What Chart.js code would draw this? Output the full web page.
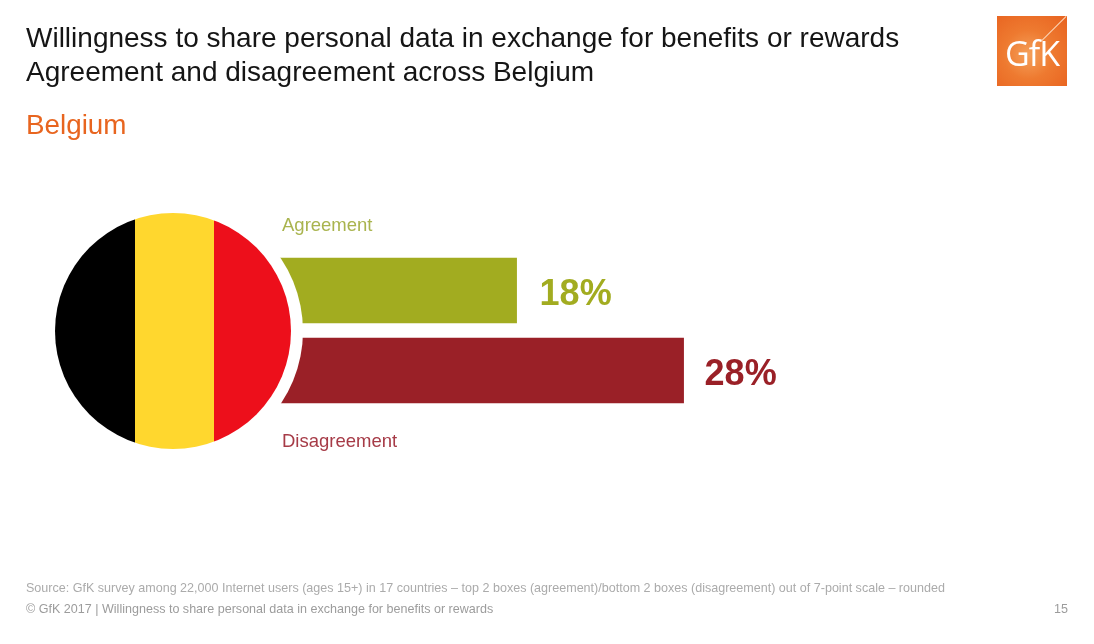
<!DOCTYPE html>
<html>
<head>
<meta charset="utf-8">
<title>Belgium</title>
<script src="https://cdn.jsdelivr.net/npm/chart.js@4"></script>
<style>
  html, body { margin: 0; padding: 0; background: #fff; }
  body { width: 1094px; height: 644px; position: relative; overflow: hidden; font-family: "Liberation Sans", Arial, sans-serif; }
  #wrap { position: absolute; left: 0; top: 0; width: 1094px; height: 644px; }
  .txt { position: absolute; white-space: nowrap; }
  #title { left: 26px; top: 21px; font-size: 28px; line-height: 34px; color: #151515; }
  #sub { left: 26px; top: 109px; font-size: 27.8px; line-height: 32px; color: #E8651F; }
  #source { left: 26px; top: 581px; font-size: 12.55px; line-height: 14px; color: #ababab; }
  #copy { left: 26px; top: 602px; font-size: 12.55px; line-height: 14px; color: #9c9c9c; }
  #page { left: 1054px; top: 602px; font-size: 12.55px; line-height: 14px; color: #9c9c9c; }
  #logo { position: absolute; left: 997px; top: 16px; width: 70px; height: 70px; overflow: hidden;
    background: radial-gradient(circle at 45% 55%, #F5A05A 0%, #EE7A30 45%, #E8621F 100%); }
  #logo span { position: absolute; left: 0; right: 0; top: 17px; text-align: center; color: #fff; font-family: "Open Sans", sans-serif; font-weight: 400; font-size: 34px; line-height: 40px; letter-spacing: -1px; }
  #logo i { position: absolute; left: 56px; top: -5px; width: 1px; height: 36px; background: #fbd3b4; transform: rotate(45deg); }
</style>
</head>
<body>
<div id="wrap"><canvas id="chart" width="1094" height="644"></canvas></div>
<div class="txt" id="title">Willingness to share personal data in exchange for benefits or rewards<br>Agreement and disagreement across Belgium</div>
<div class="txt" id="sub">Belgium</div>
<div class="txt" id="source">Source: GfK survey among 22,000 Internet users (ages 15+) in 17 countries – top 2 boxes (agreement)/bottom 2 boxes (disagreement) out of 7-point scale – rounded</div>
<div class="txt" id="copy">© GfK 2017 | Willingness to share personal data in exchange for benefits or rewards</div>
<div class="txt" id="page">15</div>
<div id="logo"><i></i><span>GfK</span></div>
<script>
// data
const categories = ['Agreement', 'Disagreement'];
const shares = [18, 28];
const barColors = ['#A2AC20', '#9A2027'];
const nameColors = ['#A9B44E', '#A63B47'];
const flagColors = ['#000000', '#FFD72E', '#ED0F1B'];

// flag sits on top of the bars, the white ring cuts their left ends
const flagPlugin = {
  id: 'flag',
  afterDatasetsDraw(chart) {
    const ctx = chart.ctx;
    const cx = 173, cy = 331, r = 118;
    ctx.save();
    ctx.fillStyle = '#fff';
    ctx.beginPath();
    ctx.arc(cx, cy, 130, 0, Math.PI * 2);
    ctx.fill();
    ctx.beginPath();
    ctx.arc(cx, cy, r, 0, Math.PI * 2);
    ctx.clip();
    ctx.fillStyle = flagColors[0];
    ctx.fillRect(cx - r, cy - r, 80, r * 2);
    ctx.fillStyle = flagColors[1];
    ctx.fillRect(135, cy - r, 79, r * 2);
    ctx.fillStyle = flagColors[2];
    ctx.fillRect(214, cy - r, 80, r * 2);
    ctx.restore();
  }
};

// value labels next to the bars, names above and below
const labelPlugin = {
  id: 'labels',
  afterDraw(chart) {
    const ctx = chart.ctx;
    const bars = chart.getDatasetMeta(0).data;
    ctx.save();
    ctx.textBaseline = 'middle';
    bars.forEach((bar, i) => {
      ctx.fillStyle = barColors[i];
      ctx.font = 'bold 36px "Liberation Sans", Arial, sans-serif';
      ctx.textAlign = 'left';
      ctx.fillText(shares[i] + '%', bar.x + (i === 0 ? 23 : 21), bar.y + 5);
      ctx.fillStyle = nameColors[i];
      ctx.font = '18.5px "Liberation Sans", Arial, sans-serif';
      ctx.fillText(categories[i], 282, i === 0 ? bar.y - 65 : bar.y + 71);
    });
    ctx.restore();
  }
};

new Chart(document.getElementById('chart'), {
  type: 'bar',
  data: {
    labels: categories,
    datasets: [{
      data: shares,
      backgroundColor: barColors,
      barThickness: 65
    }]
  },
  options: {
    indexAxis: 'y',
    responsive: false,
    animation: false,
    layout: { padding: { left: 216, right: 210, top: 250.5, bottom: 233.5 } },
    plugins: { legend: { display: false }, tooltip: { enabled: false } },
    scales: {
      x: { display: false, min: 0, max: 40 },
      y: { display: false }
    }
  },
  plugins: [flagPlugin, labelPlugin]
});
</script>
</body>
</html>
